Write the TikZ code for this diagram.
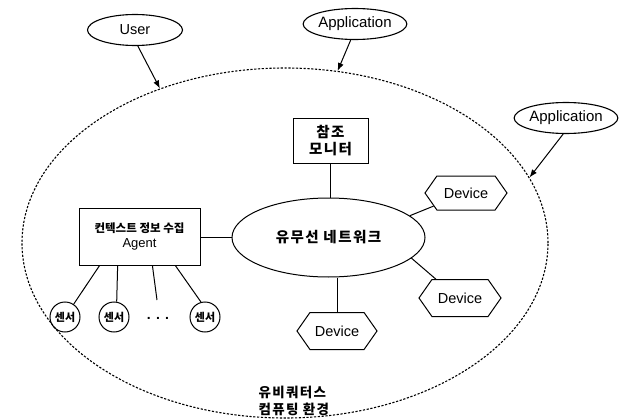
\documentclass[tikz,border=0pt]{standalone}
\usepackage{fontspec}
\setmainfont{Liberation Sans}
\newfontfamily\kr{Noto Sans CJK KR}
\newfontfamily\krs{Noto Sans CJK KR}[LetterSpace=10]
\usetikzlibrary{shapes.geometric,shapes.symbols,arrows.meta}
\begin{document}
\begin{tikzpicture}[x=1pt,y=-1pt,
  ln/.style={line width=1pt},
  oval/.style={ellipse, draw, line width=1.1pt, inner sep=0pt, minimum width=95pt, minimum height=31pt, font=\fontsize{14.5}{16}\selectfont},
  dev/.style={signal, signal to=east and west, signal pointer angle=110, draw, line width=1pt, minimum width=82pt, minimum height=34pt, inner sep=0pt, font=\fontsize{14.5}{16}\selectfont},
  sensor/.style={circle, draw, line width=1pt, minimum size=30pt, inner sep=0pt, font=\kr\bfseries\fontsize{11}{12}\selectfont},
  boxnode/.style={rectangle, draw, line width=1pt, align=center},
  arr/.style={-{Latex[length=8pt,width=6pt]}, line width=1pt}]
\useasboundingbox (0,0) rectangle (624,420);
% environment
\node[ellipse, draw, dash pattern=on 2.2pt off 1.6pt, line width=1.1pt, minimum width=526pt, minimum height=350pt, inner sep=0pt] (env) at (285,243) {};
% outside ovals
\node[oval] (user) at (135,30) {User};
\node[oval, minimum width=97pt, minimum height=31pt, font=\fontsize{15}{16}\selectfont] (app1) at (355,24) {Application};
\node[oval, minimum width=96pt, minimum height=31pt, font=\fontsize{15}{16}\selectfont] (app2) at (566,118) {Application};
\draw[arr] (user.-80) -- (env.129.6);
\draw[arr] (app1.-105) -- (env.73);
\draw[arr] (app2.-100) -- (env.15);
% monitor
\node[boxnode, minimum width=75pt, minimum height=45pt, font=\krs\bfseries\fontsize{14.5}{17}\selectfont] (mon) at (330.5,140.5) {참조\\모니터};
% network
\node[ellipse, draw, line width=1pt, minimum width=193pt, minimum height=79pt, inner sep=0pt, font=\krs\bfseries\fontsize{14.5}{16}\selectfont] (net) at (328.5,237.5) {유무선 네트워크};
\draw[ln] (mon.south) -- (mon.south |- net.north);
% devices
\node[dev] (dev1) at (466,193) {Device};
\node[dev, minimum height=37pt] (dev2) at (460,298) {Device};
\node[dev, minimum height=37pt, minimum width=80pt] (dev3) at (337,331) {Device};
\draw[ln] (net.15) -- (dev1.-158);
\draw[ln] (net.-14) -- (dev2.142);
\draw[ln] (dev3.north) -- (dev3.north |- net.south);
% agent
\node[boxnode, minimum width=121pt, minimum height=57pt, font=\fontsize{12}{15}\selectfont] (agent) at (139.5,236.5) {{\kr\bfseries\fontsize{11.5}{15}\selectfont 컨텍스트 정보 수집}\\{\fontsize{13}{15}\selectfont Agent}};
\draw[ln] (net.west) -- (net.west -| agent.east);
% sensors
\node[sensor] (s1) at (65,317) {센서};
\node[sensor] (s2) at (114,317) {센서};
\node[sensor] (s3) at (205,317) {센서};
\node[font=\bfseries\fontsize{14}{14}\selectfont] (dots) at (158,318) {. . .};
\coordinate (dline) at (157,300);
\draw[ln] (agent.-144) -- (s1.56);
\draw[ln] (agent.-127) -- (s2.80);
\draw[ln] (agent.-66) -- (dline);
\draw[ln] (agent.-39) -- (s3.105);
% label
\node[anchor=west, align=left, font=\krs\bfseries\fontsize{13.5}{17}\selectfont] (ubi) at (255,401) {유비쿼터스\\컴퓨팅 환경};
\end{tikzpicture}
\end{document}
